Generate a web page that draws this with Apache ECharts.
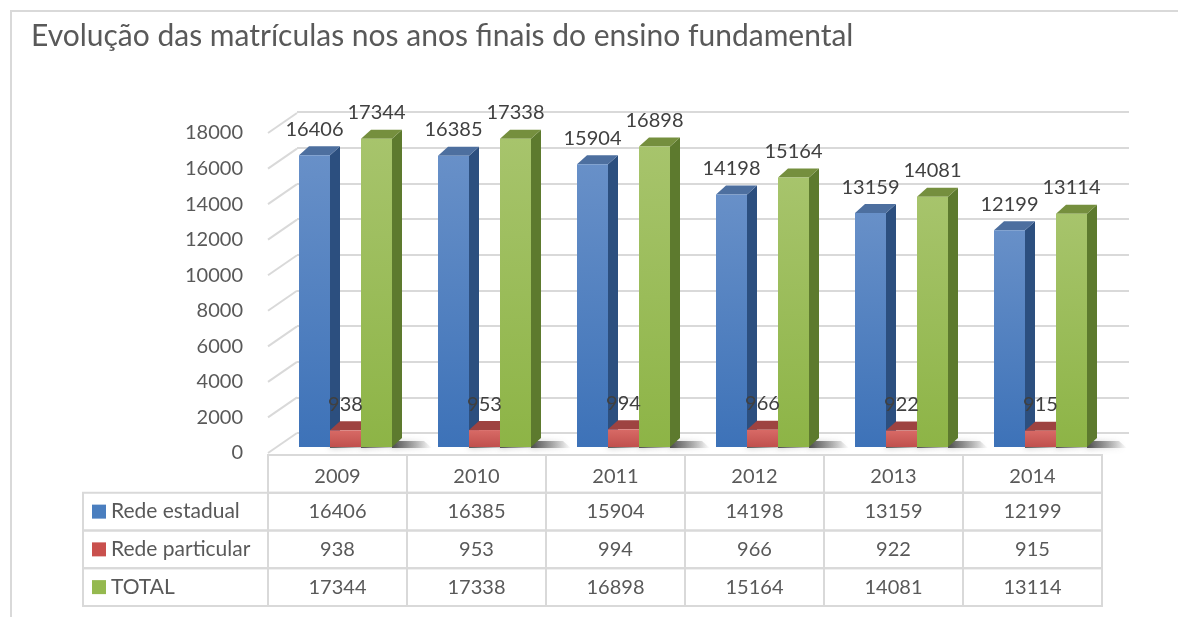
<!DOCTYPE html>
<html>
<head>
<meta charset="utf-8">
<script src="https://cdn.jsdelivr.net/npm/echarts@6/dist/echarts.min.js"></script>
<style>
  html, body { margin: 0; padding: 0; background: #fff; }
  #chart { width: 1178px; height: 617px; }
</style>
</head>
<body>
<div id="chart"></div>
<script>
const years = ['2009', '2010', '2011', '2012', '2013', '2014']
const rowNames = ['Rede estadual', 'Rede particular', 'TOTAL']
const redeEstadual = [16406, 16385, 15904, 14198, 13159, 12199]
const redeParticular = [938, 953, 994, 966, 922, 915]
const total = [17344, 17338, 16898, 15164, 14081, 13114]
const yTicks = [0, 2000, 4000, 6000, 8000, 10000, 12000, 14000, 16000, 18000]

const FONT = 'Lato, "Open Sans", sans-serif'
const TEXT = '#595959'
const LINE = '#d9d9d9'

// face colours per series: front gradient (top, bottom), side, top
const faces = [
  { front: ['#6890c8', '#3d72b8'], side: '#2c4f7f', top: '#4d6f9f', key: '#4a7ebf' },
  { front: ['#d86a66', '#c0504d'], side: '#8a3533', top: '#9e4341', key: '#c9504d' },
  { front: ['#a7c46c', '#8db446'], side: '#5d7a2e', top: '#758f3e', key: '#95b94f' },
]

// 3D column: front face + side + top, slightly pushed back into the floor
function barItem(k) {
  return function (params, api) {
    const base = api.coord([api.value(0), 0])
    const top = api.coord([api.value(0), api.value(1)])
    const w = 31
    const dx = 10
    const dy = -9
    const x0 = base[0] + 8 - 46.5 + k * w
    const y0 = base[1] - 6
    const y1 = top[1] - 6
    const f = faces[k]
    return {
      type: 'group',
      children: [
        {
          type: 'polygon',
          shape: { points: [[x0 + w, y0 + 1], [x0 + w + dx + 30, y0 + 1], [x0 + w + dx + 22, y0 - 6], [x0 + w, y0 - 6]] },
          style: {
            fill: new echarts.graphic.LinearGradient(0, 0, 1, 0, [
              { offset: 0, color: 'rgba(40,40,40,0.75)' },
              { offset: 1, color: 'rgba(40,40,40,0)' },
            ]),
            shadowBlur: 6,
            shadowColor: 'rgba(40,40,40,0.4)',
          },
        },
        {
          type: 'polygon',
          shape: { points: [[x0 + w, y1], [x0 + w + dx, y1 + dy], [x0 + w + dx, y0 + dy], [x0 + w, y0]] },
          style: { fill: f.side },
        },
        {
          type: 'polygon',
          shape: { points: [[x0, y1], [x0 + dx, y1 + dy], [x0 + w + dx, y1 + dy], [x0 + w, y1]] },
          style: { fill: f.top },
        },
        {
          type: 'rect',
          shape: { x: x0, y: y1, width: w, height: y0 - y1 },
          style: {
            fill: new echarts.graphic.LinearGradient(0, 0, 0, 1, [
              { offset: 0, color: f.front[0] },
              { offset: 1, color: f.front[1] },
            ]),
          },
        },
        {
          type: 'text',
          z2: 100,
          style: {
            text: String(api.value(1)),
            x: x0 + w / 2,
            y: y1 - 26,
            align: 'center',
            verticalAlign: 'middle',
            fill: '#404040',
            font: '20px ' + FONT,
          },
        },
      ],
    }
  }
}

// diagonal part of each gridline, from the axis up to the back wall
function wallItem(params, api) {
  const p = api.coord([0, api.value(1)])
  const x = params.coordSys.x
  return {
    type: 'line',
    shape: { x1: x, y1: p[1], x2: x + 29, y2: p[1] - 20 },
    style: { stroke: LINE, lineWidth: 2 },
  }
}

// data table cells under the plot
function cellItem(params, api) {
  const col = api.value(0)
  const row = api.value(1)
  const c = api.coord([col, row])
  const s = api.size([1, 1])
  const x = c[0] - s[0] / 2
  const y = c[1] - s[1] / 2
  const children = [
    {
      type: 'rect',
      shape: { x: x, y: y, width: s[0], height: s[1] },
      style: { fill: 'none', stroke: LINE, lineWidth: 2 },
    },
    {
      type: 'text',
      style: {
        text: String(api.value(2)),
        x: c[0],
        y: c[1] + (row === 0 ? 3 : 0),
        align: 'center',
        verticalAlign: 'middle',
        fill: TEXT,
        font: '20px ' + FONT,
      },
    },
  ]
  if (col === 0 && row > 0) {
    const left = params.coordSys.x - 185
    children.push(
      {
        type: 'rect',
        shape: { x: left, y: y, width: x - left, height: s[1] },
        style: { fill: 'none', stroke: LINE, lineWidth: 2 },
      },
      {
        type: 'rect',
        shape: { x: left + 9, y: c[1] - 7, width: 14, height: 14 },
        style: { fill: faces[row - 1].key },
      },
      {
        type: 'text',
        style: {
          text: rowNames[row - 1],
          x: left + 28,
          y: c[1],
          align: 'left',
          verticalAlign: 'middle',
          fill: TEXT,
          font: '21px ' + FONT,
        },
      }
    )
  }
  return { type: 'group', children: children }
}

const seriesValues = [redeEstadual, redeParticular, total]
const tableData = []
years.forEach((yr, i) => {
  tableData.push([i, 0, yr])
  seriesValues.forEach((vals, r) => tableData.push([i, r + 1, vals[i]]))
})

const chart = echarts.init(document.getElementById('chart'))
chart.setOption({
  animation: false,
  title: {
    text: 'Evolução das matrículas nos anos finais do ensino fundamental',
    left: 31,
    top: 21,
    padding: 0,
    textStyle: { fontFamily: FONT, fontSize: 30, fontWeight: 'normal', color: TEXT },
  },
  graphic: [
    {
      type: 'rect',
      shape: { x: 11, y: 11, width: 1300, height: 800 },
      style: { fill: 'none', stroke: LINE, lineWidth: 2 },
      silent: true,
    },
  ],
  grid: [
    { left: 268, right: 76, top: 133, bottom: 164 },
    { left: 297, right: 49, top: 112, bottom: 184 },
    { left: 268, right: 76, top: 455, bottom: 11 },
  ],
  xAxis: [
    { type: 'category', gridIndex: 0, data: years, show: false },
    { type: 'category', gridIndex: 1, data: years, show: false },
    { type: 'category', gridIndex: 2, data: years, show: false },
  ],
  yAxis: [
    {
      type: 'value', gridIndex: 0, min: 0, max: 18000, interval: 2000,
      axisLine: { show: false }, axisTick: { show: false }, splitLine: { show: false },
      axisLabel: { color: TEXT, fontFamily: FONT, fontSize: 20, margin: 25, formatter: (v) => String(v) },
    },
    {
      type: 'value', gridIndex: 1, min: 0, max: 18000, interval: 2000,
      axisLine: { show: false }, axisTick: { show: false }, axisLabel: { show: false },
      splitLine: { show: true, lineStyle: { color: LINE, width: 2 } },
    },
    {
      type: 'category', gridIndex: 2, inverse: true,
      data: [''].concat(rowNames), show: false,
    },
  ],
  series: [
    {
      type: 'custom', name: 'wall', xAxisIndex: 0, yAxisIndex: 0, silent: true,
      renderItem: wallItem,
      data: yTicks.map((v) => [0, v]),
      z: 1,
    },
    {
      type: 'custom', name: rowNames[0], xAxisIndex: 0, yAxisIndex: 0,
      renderItem: barItem(0),
      data: redeEstadual.map((v, i) => [i, v]),
      z: 2,
    },
    {
      type: 'custom', name: rowNames[1], xAxisIndex: 0, yAxisIndex: 0,
      renderItem: barItem(1),
      data: redeParticular.map((v, i) => [i, v]),
      z: 2,
    },
    {
      type: 'custom', name: rowNames[2], xAxisIndex: 0, yAxisIndex: 0,
      renderItem: barItem(2),
      data: total.map((v, i) => [i, v]),
      z: 2,
    },
    {
      type: 'custom', name: 'table', xAxisIndex: 2, yAxisIndex: 2, silent: true,
      renderItem: cellItem,
      data: tableData,
      z: 3,
    },
  ],
})
</script>
</body>
</html>
